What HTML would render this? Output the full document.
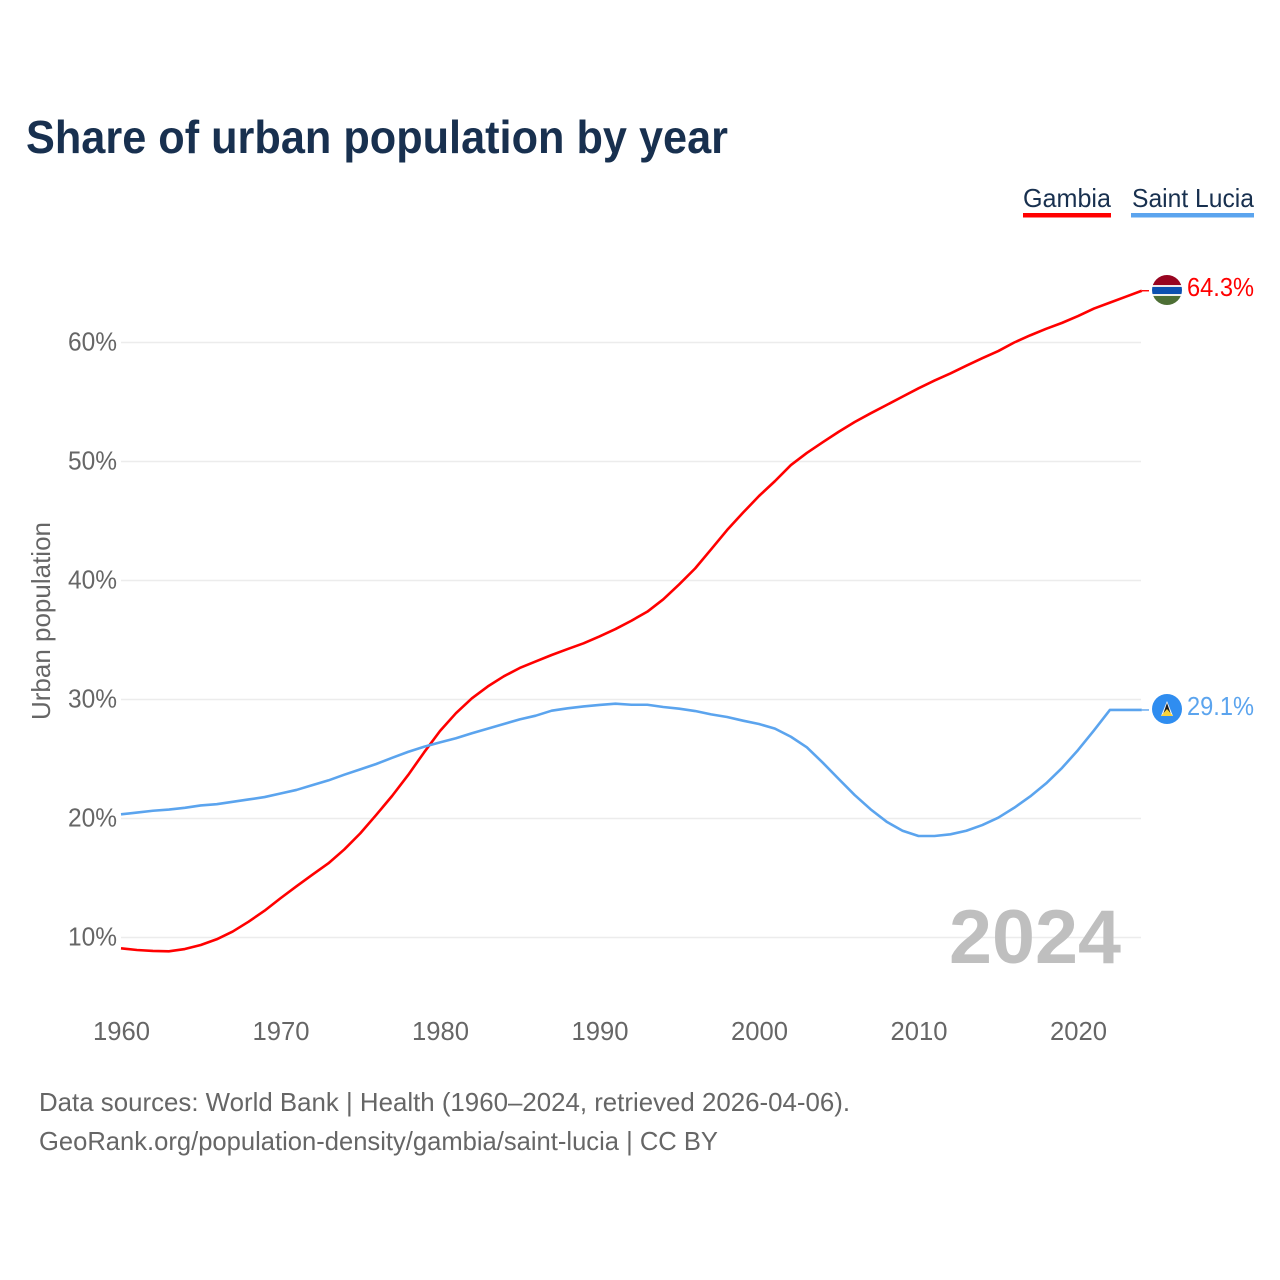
<!DOCTYPE html>
<html lang="en">
<head>
<meta charset="utf-8">
<title>Share of urban population by year</title>
<style>
html,body{margin:0;padding:0;background:#fff;width:1280px;height:1280px;overflow:hidden}
svg{display:block}
text{font-family:"Liberation Sans",sans-serif}
</style>
</head>
<body>
<svg id="chart" xmlns="http://www.w3.org/2000/svg" width="1280" height="1280" viewBox="0 0 1280 1280">
  <rect width="1280" height="1280" fill="#fff"/>
  <text x="26" y="153" font-size="46" font-weight="700" fill="#18304f" textLength="702" lengthAdjust="spacingAndGlyphs">Share of urban population by year</text>

  <g>
    <g>
      <text x="1023" y="207" font-size="26" fill="#18304f" textLength="88" lengthAdjust="spacingAndGlyphs">Gambia</text>
      <rect x="1023" y="213" width="88" height="4.5" fill="#ff0000"/>
    </g>
    <g>
      <text x="1132" y="207" font-size="26" fill="#18304f" textLength="122" lengthAdjust="spacingAndGlyphs">Saint Lucia</text>
      <rect x="1131" y="213" width="123" height="4.5" fill="#5ba4ee"/>
    </g>
  </g>

  <g id="grid"></g>
  <g id="yTicks"></g>
  <g id="xTicks"></g>

  <text transform="translate(50,720) rotate(-90)" font-size="26" fill="#666" textLength="198" lengthAdjust="spacingAndGlyphs">Urban population</text>

  <text x="949" y="963" font-size="76" font-weight="700" fill="#bfbfbf" textLength="172" lengthAdjust="spacingAndGlyphs">2024</text>

  <g id="series"></g>

  <defs>
    <clipPath id="flagClipA"><circle cx="1167" cy="290" r="15"/></clipPath>
    <clipPath id="flagClipB"><circle cx="1167" cy="709" r="15"/></clipPath>
  </defs>

  <g>
    <g clip-path="url(#flagClipA)">
      <rect x="1152" y="275" width="30" height="10" fill="#980420"/>
      <rect x="1152" y="285" width="30" height="2" fill="#efe8ea"/>
      <rect x="1152" y="287" width="30" height="7" fill="#0c50b0"/>
      <rect x="1152" y="294" width="30" height="2" fill="#efefea"/>
      <rect x="1152" y="296" width="30" height="10" fill="#4d6f35"/>
    </g>
    <text x="1187" y="296" font-size="26" fill="#ff0000" textLength="67" lengthAdjust="spacingAndGlyphs">64.3%</text>
  </g>
  <g>
    <g clip-path="url(#flagClipB)">
      <rect x="1152" y="694" width="30" height="30" fill="#2f8df0"/>
      <polygon points="1167,701 1173,716 1161,716" fill="#f4f4f4"/>
      <polygon points="1167,703 1171.5,716 1162.5,716" fill="#1a1a1a"/>
      <polygon points="1167,709 1173,716 1161,716" fill="#f8d33a"/>
    </g>
    <text x="1187" y="715" font-size="26" fill="#5ba4ee" textLength="67" lengthAdjust="spacingAndGlyphs">29.1%</text>
  </g>

  <text x="39" y="1111" font-size="26" fill="#666" textLength="811" lengthAdjust="spacingAndGlyphs">Data sources: World Bank | Health (1960–2024, retrieved 2026-04-06).</text>
  <text x="39" y="1150" font-size="26" fill="#666" textLength="679" lengthAdjust="spacingAndGlyphs">GeoRank.org/population-density/gambia/saint-lucia | CC BY</text>
</svg>
<script>
const startYear = 1960;
const xTickYears = [1960, 1970, 1980, 1990, 2000, 2010, 2020];
const yTickValues = [10, 20, 30, 40, 50, 60];
const gambiaValues = [9.09, 8.95, 8.87, 8.84, 9.03, 9.37, 9.85, 10.5, 11.33, 12.25, 13.3, 14.3, 15.28, 16.23, 17.4, 18.75, 20.3, 21.9, 23.65, 25.55, 27.35, 28.85, 30.1, 31.1, 31.95, 32.65, 33.2, 33.74, 34.24, 34.72, 35.3, 35.92, 36.62, 37.38, 38.42, 39.68, 41.02, 42.62, 44.24, 45.7, 47.1, 48.35, 49.7, 50.72, 51.62, 52.5, 53.32, 54.05, 54.75, 55.45, 56.15, 56.8, 57.4, 58.05, 58.68, 59.28, 60.0, 60.6, 61.15, 61.65, 62.22, 62.85, 63.35, 63.85, 64.35];
const saintLuciaValues = [20.35, 20.5, 20.65, 20.75, 20.9, 21.1, 21.2, 21.4, 21.6, 21.8, 22.1, 22.4, 22.8, 23.2, 23.68, 24.13, 24.58, 25.1, 25.6, 26.03, 26.4, 26.74, 27.16, 27.55, 27.94, 28.33, 28.64, 29.06, 29.26, 29.42, 29.54, 29.65, 29.56, 29.56, 29.37, 29.23, 29.03, 28.75, 28.53, 28.22, 27.94, 27.55, 26.87, 25.98, 24.69, 23.32, 21.97, 20.77, 19.73, 18.97, 18.53, 18.53, 18.67, 18.97, 19.45, 20.07, 20.9, 21.85, 22.95, 24.25, 25.75, 27.4, 29.12, 29.12, 29.12];

const NS = 'http://www.w3.org/2000/svg';
function xScale(year) { return 121 + (year - 1960) * 15.95; }
function yScale(value) { return 937.5 - (value - 10) * 11.9; }
function make(tag, attrs) {
  const el = document.createElementNS(NS, tag);
  Object.keys(attrs).forEach(function (k) { el.setAttribute(k, attrs[k]); });
  return el;
}

const gridGroup = document.getElementById('grid');
const yGroup = document.getElementById('yTicks');
yTickValues.forEach(function (v) {
  const line = make('line', { x1: 121, x2: 1141, y1: yScale(v), y2: yScale(v), stroke: '#ececec', 'stroke-width': 1.6 });
  
  
  gridGroup.appendChild(line);
  const label = make('text', { x: 68, y: yScale(v) + 8, 'font-size': 26, fill: '#666', textLength: 49, lengthAdjust: 'spacingAndGlyphs' });
  
  
  label.textContent = v + '%';
  yGroup.appendChild(label);
});

const xGroup = document.getElementById('xTicks');
xTickYears.forEach(function (y) {
  const label = make('text', { x: xScale(y) - 28, y: 1040, 'font-size': 26, fill: '#666', textLength: 57, lengthAdjust: 'spacingAndGlyphs' });
  
  
  label.textContent = y;
  xGroup.appendChild(label);
});

function pathFor(values) {
  return values.map(function (v, i) {
    return (i ? 'L' : 'M') + xScale(startYear + i).toFixed(2) + ' ' + yScale(v).toFixed(2);
  }).join(' ');
}

const seriesGroup = document.getElementById('series');

const gambiaLine = make('path', { d: pathFor(gambiaValues), fill: 'none', stroke: '#ff0000', 'stroke-width': 2.6, 'stroke-linejoin': 'round' });


seriesGroup.appendChild(gambiaLine);

const luciaLine = make('path', { d: pathFor(saintLuciaValues), fill: 'none', stroke: '#5ba4ee', 'stroke-width': 2.6, 'stroke-linejoin': 'round' });


seriesGroup.appendChild(luciaLine);

const gambiaLast = yScale(gambiaValues[gambiaValues.length - 1]);
const gambiaConnector = make('line', { x1: xScale(2024), x2: 1149, y1: gambiaLast, y2: gambiaLast, stroke: '#ff0000', 'stroke-width': 1.4 });


seriesGroup.appendChild(gambiaConnector);

const luciaLast = yScale(saintLuciaValues[saintLuciaValues.length - 1]);
const luciaConnector = make('line', { x1: xScale(2024), x2: 1149, y1: luciaLast, y2: luciaLast, stroke: '#5ba4ee', 'stroke-width': 1.4 });


seriesGroup.appendChild(luciaConnector);
</script>
</body>
</html>
